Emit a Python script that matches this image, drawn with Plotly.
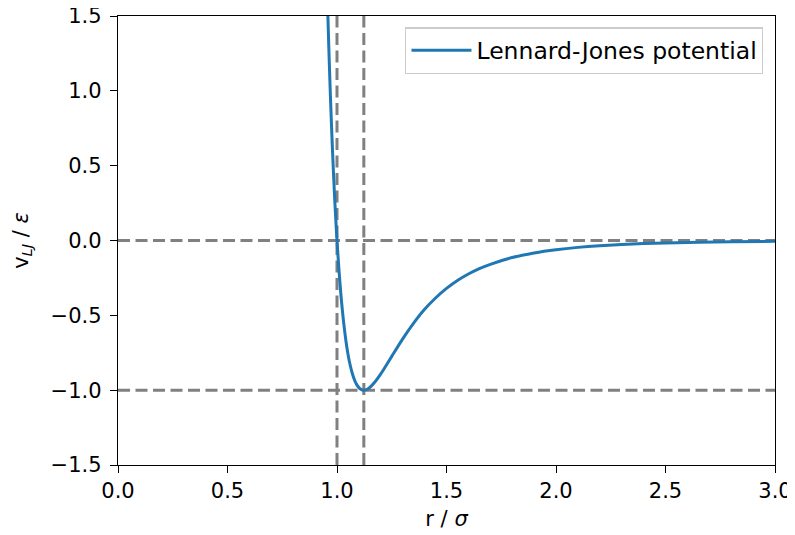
import plotly.graph_objects as go

# Values
r_values = [0.950, 0.955, 0.960, 0.965, 0.970, 0.975, 0.980, 0.985, 0.990, 0.995,
            1.000, 1.010, 1.020, 1.030, 1.040, 1.050, 1.060, 1.070, 1.080, 1.090,
            1.100, 1.110, 1.120, 1.130, 1.140, 1.150, 1.170, 1.200, 1.220, 1.250,
            1.300, 1.350, 1.400, 1.450, 1.500, 1.550, 1.600, 1.650, 1.700, 1.800,
            1.900, 2.000, 2.100, 2.200, 2.400, 2.500, 2.800, 3.000]
v_values = [1.961, 1.678, 1.418, 1.180, 0.963, 0.764, 0.582, 0.416, 0.264, 0.126,
            0.000, -0.218, -0.398, -0.544, -0.663, -0.758, -0.832, -0.889, -0.932, -0.963,
            -0.983, -0.995, -1.000, -0.998, -0.992, -0.982, -0.951, -0.891, -0.845, -0.774,
            -0.657, -0.552, -0.460, -0.384, -0.320, -0.267, -0.224, -0.188, -0.159, -0.114,
            -0.083, -0.0615, -0.046, -0.035, -0.0208, -0.0163, -0.0083, -0.0055]
series_name = "Lennard-Jones potential"

vlines_x = [1.0, 1.1225]
hlines_y = [0.0, -1.0]

x_tick_vals = [0.0, 0.5, 1.0, 1.5, 2.0, 2.5, 3.0]
x_tick_text = ["0.0", "0.5", "1.0", "1.5", "2.0", "2.5", "3.0"]
y_tick_vals = [-1.5, -1.0, -0.5, 0.0, 0.5, 1.0, 1.5]
y_tick_text = ["\u22121.5", "\u22121.0", "\u22120.5", "0.0", "0.5", "1.0", "1.5"]

FONT = "DejaVu Sans"
FS = 21

fig = go.Figure()

dash_style = dict(color="#808080", width=3, dash="12px,5.5px")
for xv in vlines_x:
    fig.add_vline(x=xv, line=dash_style, layer="below")
for yv in hlines_y:
    fig.add_hline(y=yv, line=dash_style, layer="below")

fig.add_trace(go.Scatter(
    x=r_values, y=v_values, mode="lines", name=series_name,
    line=dict(color="#1f77b4", width=3, shape="spline", smoothing=0.6),
    showlegend=True,
))

axis_common = dict(
    showline=True, linecolor="black", linewidth=1.4, mirror=True,
    ticks="outside", ticklen=7, tickwidth=1.4, tickcolor="black",
    showgrid=False, zeroline=False, automargin=False,
    ticklabeloverflow="allow",
    tickfont=dict(family=FONT, size=FS, color="black"),
)

# the page body adds an 8px offset, so the figure is 8px smaller on each axis
fig.update_layout(
    width=787, height=527,
    margin=dict(l=110, r=20, t=8, b=70),
    paper_bgcolor="white", plot_bgcolor="white",
    font=dict(family=FONT, size=FS, color="black"),
    xaxis=dict(range=[0, 3], tickvals=x_tick_vals, ticktext=x_tick_text,
               title=dict(text="r / <i>σ</i>", font=dict(family=FONT, size=FS), standoff=8),
               **axis_common),
    yaxis=dict(range=[-1.5, 1.5], tickvals=y_tick_vals, ticktext=y_tick_text,
               ticklabelstandoff=4,
               title=dict(text="v<sub><i>LJ</i></sub> / <i>ε</i>", font=dict(family=FONT, size=FS), standoff=16),
               **axis_common),
    legend=dict(x=0.982, y=0.975, xanchor="right", yanchor="top",
                bgcolor="rgba(255,255,255,0.8)", bordercolor="#cccccc", borderwidth=1.3,
                itemwidth=60,
                font=dict(family=FONT, size=23.5, color="black")),
)

fig.write_html("out.html")
